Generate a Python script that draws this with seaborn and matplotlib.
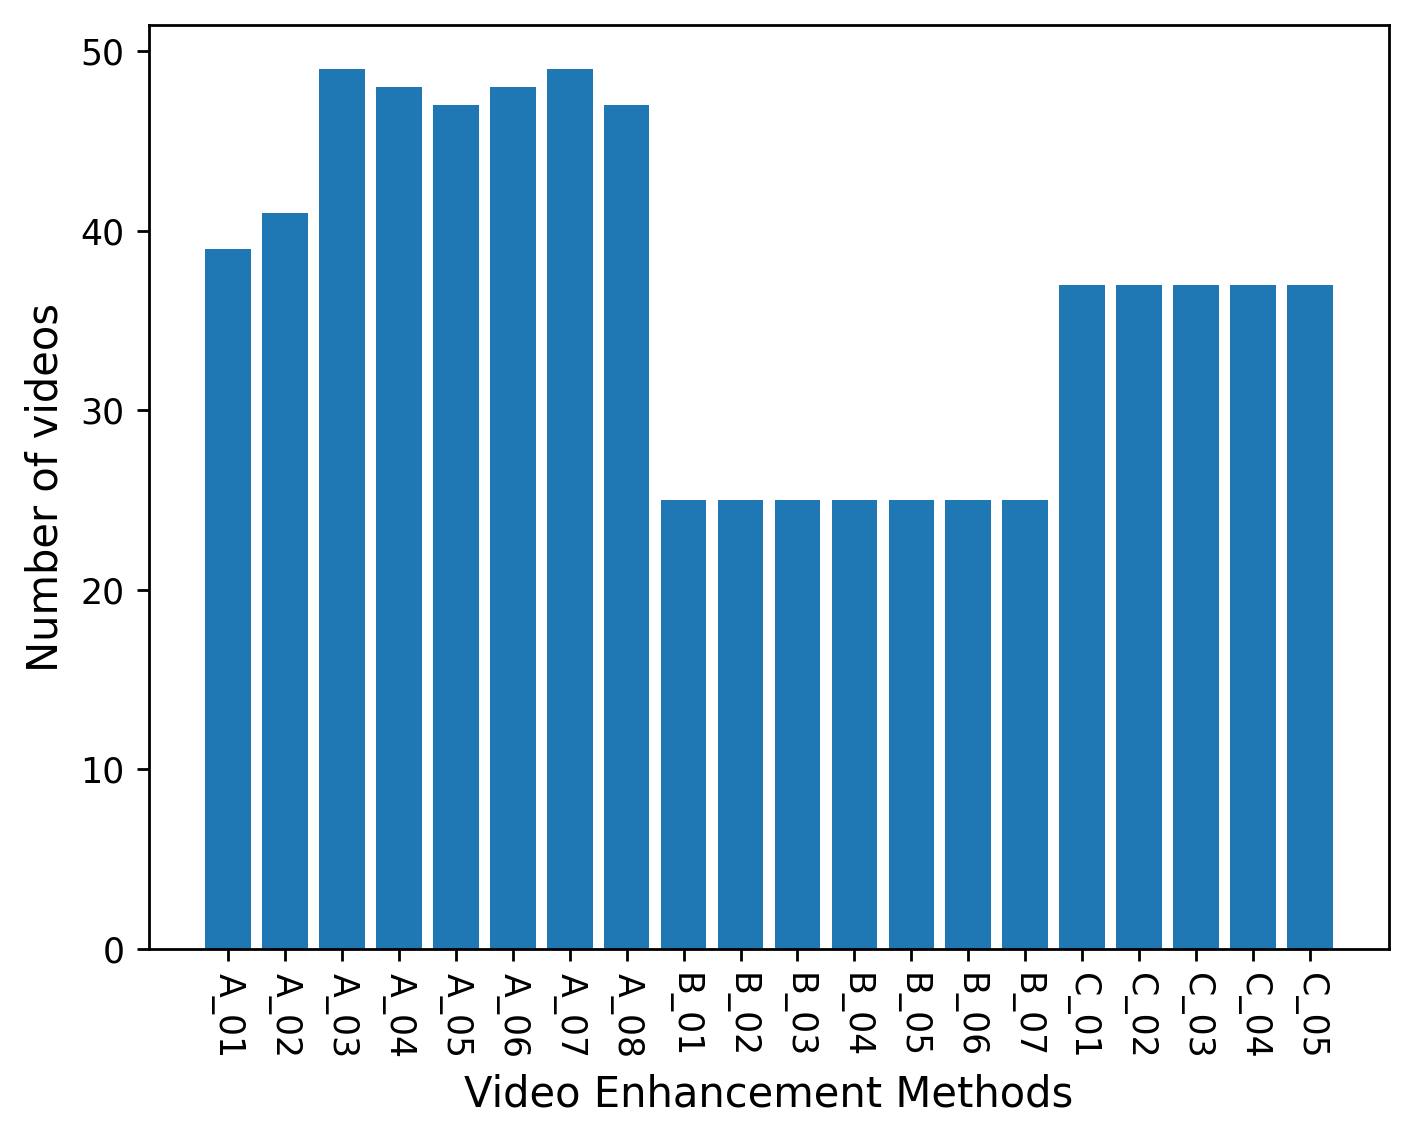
import matplotlib
matplotlib.use("Agg")
import matplotlib.pyplot as plt
import pandas as pd
import seaborn as sns

methods = [
    "A_01", "A_02", "A_03", "A_04", "A_05", "A_06", "A_07", "A_08",
    "B_01", "B_02", "B_03", "B_04", "B_05", "B_06", "B_07",
    "C_01", "C_02", "C_03", "C_04", "C_05",
]
num_videos = [
    39, 41, 49, 48, 47, 48, 49, 47,
    25, 25, 25, 25, 25, 25, 25,
    37, 37, 37, 37, 37,
]

df = pd.DataFrame({"Method": methods, "Videos": num_videos})

fig = plt.figure(figsize=(1414 / 250, 1140 / 250), dpi=250)
ax = fig.add_axes([149 / 1414, 1 - 949 / 1140, 1240 / 1414, 924 / 1140])

sns.barplot(
    data=df,
    x="Method",
    y="Videos",
    color="#1f77b4",
    saturation=1,
    width=0.8,
    ax=ax,
)

n = len(methods)
pad = (n - 1 + 0.8) * 0.05
ax.set_xlim(-0.4 - pad, n - 1 + 0.4 + pad)
ax.set_ylim(0, max(num_videos) * 1.05)

ax.tick_params(axis="x", labelrotation=270)
ax.set_xlabel("Video Enhancement Methods", fontsize=12)
ax.set_ylabel("Number of videos", fontsize=12)

fig.savefig("out.png", dpi=250)
plt.close(fig)
